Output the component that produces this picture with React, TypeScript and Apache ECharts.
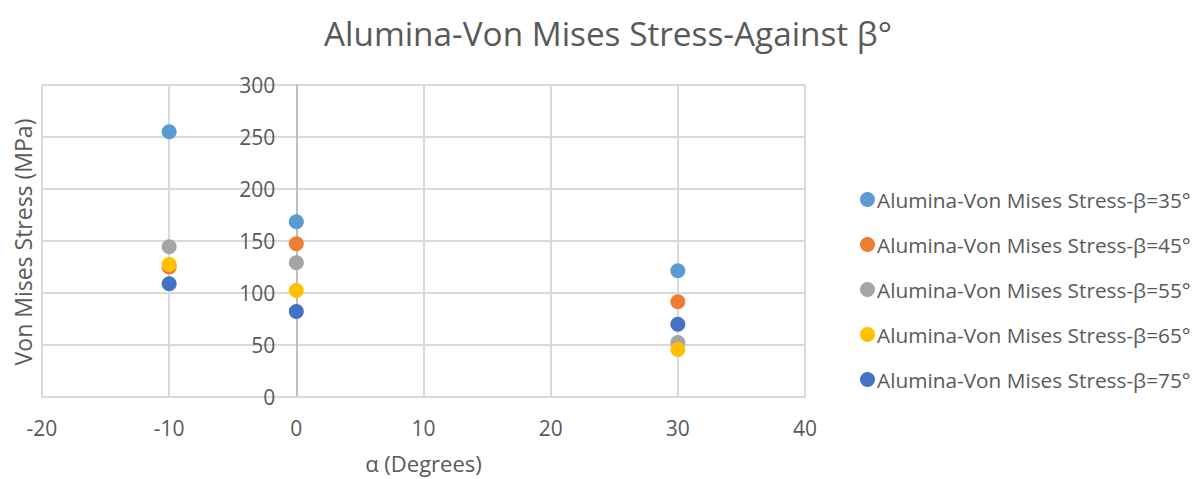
import React, { useEffect, useRef } from "react";
import * as echarts from "echarts";

const seriesNames = [
  "Alumina-Von Mises Stress-β=35°",
  "Alumina-Von Mises Stress-β=45°",
  "Alumina-Von Mises Stress-β=55°",
  "Alumina-Von Mises Stress-β=65°",
  "Alumina-Von Mises Stress-β=75°",
];
const colors = ["#5b9bd5", "#ed7d31", "#a5a5a5", "#ffc000", "#4472c4"];
const alphaValues = [-10, 0, 30];
const beta35 = [255, 168.5, 121.3];
const beta45 = [125, 147.3, 91.5];
const beta55 = [144.4, 129, 52.5];
const beta65 = [127.4, 102.4, 45.6];
const beta75 = [109, 82.2, 70];
const allSeries = [beta35, beta45, beta55, beta65, beta75];

const FONT = "'Open Sans', 'Liberation Sans', sans-serif";
const TXT = "#595959";

const GRID_LEFT = 42;
const GRID_RIGHT = 395;
const X_MIN = -20;
const X_MAX = 40;

export default function App() {
  const ref = useRef<HTMLDivElement>(null);
  useEffect(() => {
    const chart = echarts.init(ref.current!, null, { renderer: "svg" });
    const plotW = 1200 - GRID_LEFT - GRID_RIGHT;
    const zeroOffset = -((0 - X_MIN) / (X_MAX - X_MIN)) * plotW;
    chart.setOption({
      animation: false,
      backgroundColor: "#ffffff",
      title: {
        text: "Alumina-Von Mises Stress-Against β°",
        left: 603,
        textAlign: "center",
        top: 11,
        textStyle: { fontFamily: FONT, fontSize: 33.3, fontWeight: "normal", color: TXT },
      },
      legend: {
        orient: "vertical",
        left: 855,
        top: 184,
        itemGap: 24,
        itemWidth: 15,
        itemHeight: 15,
        icon: "circle",
        textStyle: { fontFamily: FONT, fontSize: 20.8, color: TXT, padding: [0, 0, 0, -3] },
        data: seriesNames,
      },
      grid: {
        left: GRID_LEFT,
        right: GRID_RIGHT,
        top: 85,
        bottom: 82,
        containLabel: false,
        outerBoundsMode: "none",
      },
      xAxis: {
        type: "value",
        min: X_MIN,
        max: X_MAX,
        interval: 10,
        name: "α (Degrees)",
        nameLocation: "middle",
        nameGap: 55,
        nameTextStyle: { fontFamily: FONT, fontSize: 22, color: TXT },
        axisLine: { show: true, onZero: false, lineStyle: { color: "#d9d9d9", width: 2 } },
        axisTick: { show: false },
        axisLabel: { fontFamily: FONT, fontSize: 21, color: TXT, margin: 20 },
        splitLine: { show: true, lineStyle: { color: "#d9d9d9", width: 2 } },
      },
      yAxis: {
        type: "value",
        min: 0,
        max: 300,
        interval: 50,
        position: "left",
        offset: zeroOffset,
        axisLine: { show: true, onZero: false, lineStyle: { color: "#bfbfbf", width: 2 } },
        axisTick: { show: false },
        axisLabel: { fontFamily: FONT, fontSize: 21, color: TXT, margin: 21 },
        splitLine: { show: true, lineStyle: { color: "#d9d9d9", width: 2 } },
      },
      graphic: [
        {
          type: "text",
          x: 23,
          y: 242,
          rotation: Math.PI / 2,
          style: {
            text: "Von Mises Stress (MPa)",
            fontFamily: FONT,
            fontSize: 23,
            fill: TXT,
            align: "center",
            verticalAlign: "middle",
          },
        },
      ],
      series: allSeries.map((vals, i) => ({
        name: seriesNames[i],
        type: "scatter",
        symbol: "circle",
        symbolSize: 15,
        itemStyle: { color: colors[i], opacity: 1 },
        data: alphaValues.map((a, j) => [a, vals[j]]),
      })),
    });
    return () => chart.dispose();
  }, []);
  return (
    <div
      ref={ref}
      style={{ position: "absolute", left: 0, top: 0, width: 1200, height: 479 }}
    />
  );
}
